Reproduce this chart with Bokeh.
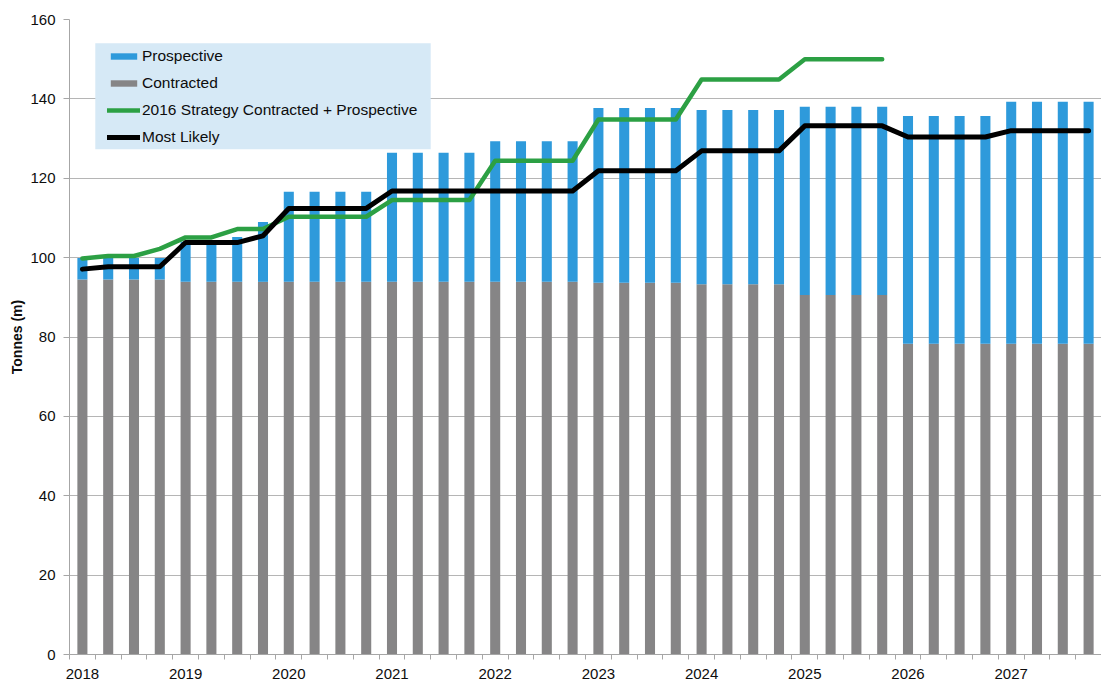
import numpy as np
from bokeh.plotting import figure
from bokeh.models import (ColumnDataSource, Range1d, FixedTicker, Legend, LegendItem, BoxAnnotation)
from bokeh.embed import file_html
from bokeh.resources import INLINE

# ---- data ----
years = ["2018", "2019", "2020", "2021", "2022", "2023", "2024", "2025", "2026", "2027"]
quarters = [f"{y} Q{q}" for y in years for q in (1, 2, 3, 4)]

contracted = [94.5, 94.5, 94.5, 94.5,
              93.9, 93.9, 93.9, 93.9,
              93.9, 93.9, 93.9, 93.9,
              93.9, 93.9, 93.9, 93.9,
              93.9, 93.9, 93.9, 93.9,
              93.7, 93.7, 93.7, 93.7,
              93.3, 93.3, 93.3, 93.3,
              90.6, 90.6, 90.6, 90.6,
              78.3, 78.3, 78.3, 78.3,
              78.3, 78.3, 78.3, 78.3]

total = [99.9, 99.9, 99.9, 99.9,
         104.0, 104.0, 105.2, 109.0,
         116.6, 116.6, 116.6, 116.6,
         126.4, 126.4, 126.4, 126.4,
         129.3, 129.3, 129.3, 129.3,
         137.7, 137.7, 137.7, 137.7,
         137.2, 137.2, 137.2, 137.2,
         138.0, 138.0, 138.0, 138.0,
         135.7, 135.7, 135.7, 135.7,
         139.3, 139.3, 139.3, 139.3]

prospective = [round(t - c, 1) for t, c in zip(total, contracted)]

strategy_2016 = [99.8, 100.4, 100.4, 102.2,
                 105.1, 105.1, 107.2, 107.2,
                 110.3, 110.3, 110.3, 110.3,
                 114.5, 114.5, 114.5, 114.5,
                 124.4, 124.4, 124.4, 124.4,
                 134.8, 134.8, 134.8, 134.8,
                 144.9, 144.9, 144.9, 144.9,
                 150.0, 150.0, 150.0, 150.0]

most_likely = [97.1, 97.7, 97.7, 97.7,
               103.8, 103.8, 103.8, 105.5,
               112.4, 112.4, 112.4, 112.4,
               116.8, 116.8, 116.8, 116.8,
               116.8, 116.8, 116.8, 116.8,
               121.9, 121.9, 121.9, 121.9,
               126.9, 126.9, 126.9, 126.9,
               133.2, 133.2, 133.2, 133.2,
               130.4, 130.4, 130.4, 130.4,
               132.0, 132.0, 132.0, 132.0]

# ---- build ----
xpos = np.arange(len(quarters)) + 0.5
src = ColumnDataSource(dict(
    x=xpos, q=quarters,
    contracted=contracted,
    total=[c + p for c, p in zip(contracted, prospective)],
))
src_green = ColumnDataSource(dict(x=xpos[:len(strategy_2016)], y=strategy_2016))
src_black = ColumnDataSource(dict(x=xpos, y=most_likely))

FONT = "Liberation Sans"
BLUE = "#2e9adb"
GRAY = "#868586"
GREEN = "#2ca044"
TXT = "#0d0d0d"
LEGEND_BG = "#d6e9f6"

p = figure(width=1101, height=681, output_backend="svg", toolbar_location=None,
           x_range=Range1d(0, len(quarters)), y_range=Range1d(0, 160),
           min_border_left=69, min_border_top=19, min_border_right=0, min_border_bottom=26)
p.outline_line_color = None
p.background_fill_color = "white"
p.border_fill_color = "white"

r_con = p.vbar(x="x", bottom=0, top="contracted", width=0.39, source=src,
               fill_color=GRAY, line_color=None)
r_pro = p.vbar(x="x", bottom="contracted", top="total", width=0.39, source=src,
               fill_color=BLUE, line_color=None)
r_green = p.line(x="x", y="y", source=src_green, line_color=GREEN, line_width=4.5,
                 line_join="round", line_cap="round")
r_black = p.line(x="x", y="y", source=src_black, line_color="black", line_width=5,
                 line_join="round", line_cap="round")

# y axis
p.yaxis.ticker = FixedTicker(ticks=list(range(0, 161, 20)))
p.yaxis.axis_label = "Tonnes (m)"
p.yaxis.axis_label_text_font = FONT
p.yaxis.axis_label_text_font_size = "14px"
p.yaxis.axis_label_text_font_style = "bold"
p.yaxis.axis_label_text_color = TXT
p.yaxis.axis_label_standoff = 2
p.yaxis.major_label_text_font = FONT
p.yaxis.major_label_text_font_size = "15px"
p.yaxis.major_label_text_color = TXT
p.yaxis.major_label_standoff = 8
p.yaxis.axis_line_color = "#a6a6a6"
p.yaxis.major_tick_line_color = "#a6a6a6"
p.yaxis.major_tick_out = 6
p.yaxis.major_tick_in = 0
p.yaxis.minor_tick_line_color = None

p.ygrid.grid_line_color = "#b5b5b5"
p.ygrid.grid_line_width = 1
p.xgrid.grid_line_color = None

# x axis: year labels at first quarter of each year, ticks at quarter boundaries
label_pos = [float(xpos[4 * i]) for i in range(len(years))]
p.xaxis.ticker = FixedTicker(ticks=label_pos, minor_ticks=list(range(len(quarters) + 1)))
p.xaxis.major_label_overrides = {pos: y for pos, y in zip(label_pos, years)}
p.xaxis.major_tick_out = 0
p.xaxis.major_tick_in = 0
p.xaxis.minor_tick_out = 5
p.xaxis.minor_tick_in = 0
p.xaxis.minor_tick_line_color = "#a6a6a6"
p.xaxis.axis_line_color = "#a6a6a6"
p.xaxis.major_label_text_font = FONT
p.xaxis.major_label_text_font_size = "15px"
p.xaxis.major_label_text_color = TXT
p.xaxis.major_label_standoff = 9

# legend background panel (covers the gridline behind the legend, as in the original)
legend_bg = BoxAnnotation(left=1.0, right=14.0, bottom=127.3, top=154.0,
                          fill_color=LEGEND_BG, fill_alpha=1.0, line_color=None,
                          level="annotation")
p.add_layout(legend_bg)

legend = Legend(items=[
    LegendItem(label="Prospective", renderers=[r_pro]),
    LegendItem(label="Contracted", renderers=[r_con]),
    LegendItem(label="2016 Strategy Contracted + Prospective", renderers=[r_green]),
    LegendItem(label="Most Likely", renderers=[r_black]),
], location=(38, 504))
legend.margin = 0
legend.padding = 0
legend.spacing = 0
legend.label_height = 27
legend.glyph_width = 33
legend.glyph_height = 8
legend.label_standoff = 2
legend.label_text_font = FONT
legend.label_text_font_size = "15.5px"
legend.label_text_color = TXT
legend.background_fill_alpha = 0.0
legend.border_line_color = None
p.add_layout(legend, "center")

open("out.html", "w").write(file_html(p, INLINE))
